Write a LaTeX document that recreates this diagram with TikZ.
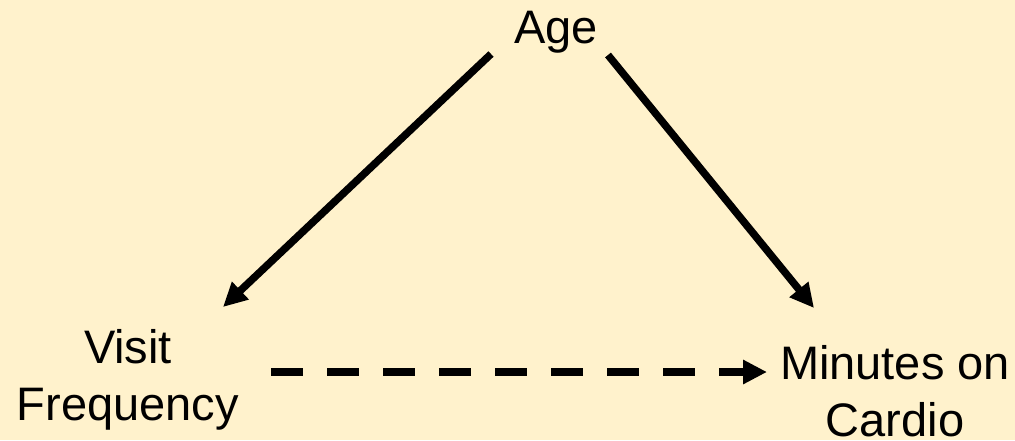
\documentclass[tikz,border=0pt]{standalone}
\usepackage{fontspec}
\setmainfont{Liberation Sans}
\usetikzlibrary{arrows.meta}
\definecolor{bgcol}{RGB}{255,242,204}
\begin{document}
\begin{tikzpicture}[x=1pt,y=1pt,
  lbl/.style={inner sep=0pt, align=center, anchor=base, font=\fontsize{47}{57}\selectfont},
  arr/.style={line width=7.5pt, -{Triangle[length=24pt,width=23pt]}},
  darr/.style={arr, dash pattern=on 32pt off 24pt}]
\fill[bgcol] (0,0) rectangle (1015,-440);
\useasboundingbox (0,0) rectangle (1015,-440);
\node[lbl] (age) at (556,-43) {Age};
\node[lbl] (visit) at (128,-420) {Visit\\Frequency};
\node[lbl] (min) at (895,-436) {Minutes on\\Cardio};
\coordinate (ageL) at (491,-54);
\coordinate (ageR) at (608,-55);
\coordinate (visitT) at (223,-307);
\coordinate (minT) at (814,-308);
\coordinate (visitR) at (271,-372);
\coordinate (minL) at (767,-372);
\draw[arr] (ageL) -- (visitT);
\draw[arr] (ageR) -- (minT);
\draw[darr] (visitR) -- (minL);
\end{tikzpicture}
\end{document}
